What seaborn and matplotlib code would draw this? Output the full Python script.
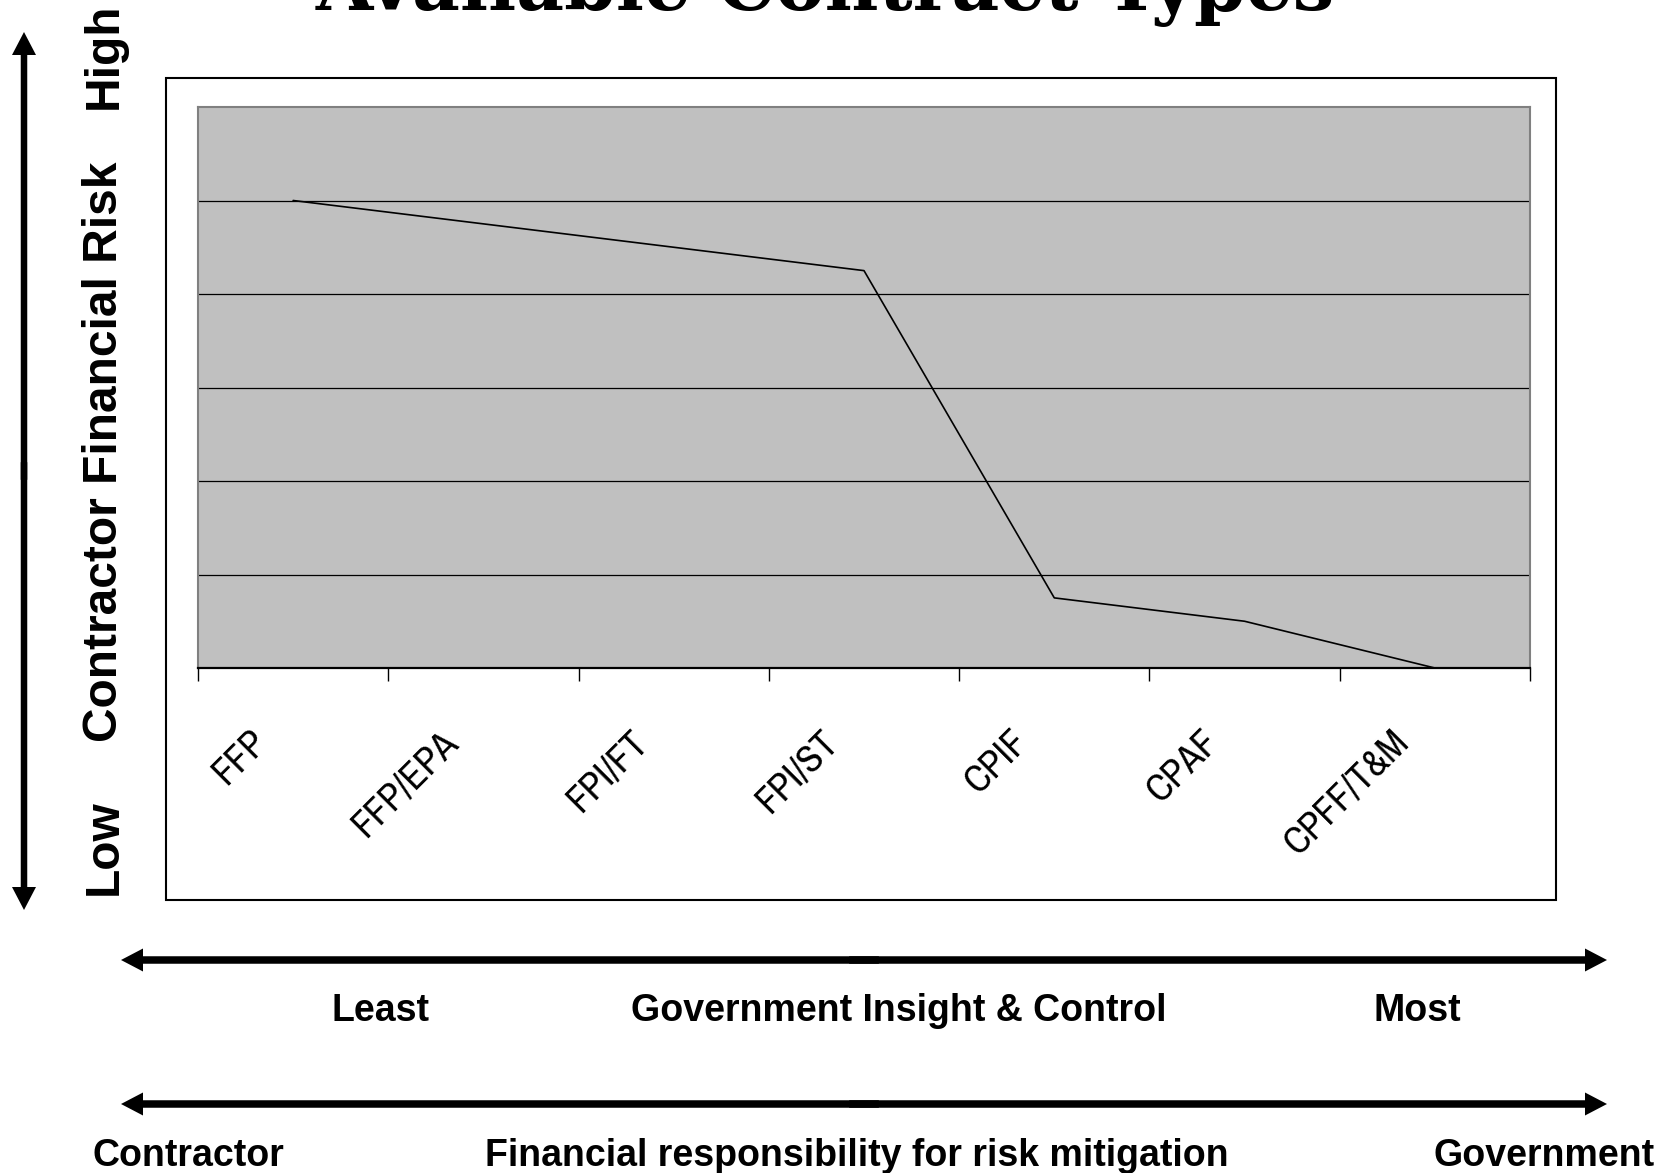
import numpy as np
import pandas as pd
import matplotlib
matplotlib.use("Agg")
import matplotlib.pyplot as plt
import matplotlib.transforms as mtransforms
from matplotlib.patches import Rectangle, FancyArrowPatch
from matplotlib import font_manager
import seaborn as sns

# Contract types ordered from firm-fixed-price to cost-plus, with relative contractor risk
contract_types = ["FFP", "FFP/EPA", "FPI/FT", "FPI/ST", "CPIF", "CPAF", "CPFF/T&M"]
contractor_risk = [5.0, 4.75, 4.5, 4.25, 0.75, 0.5, 0.0]
risk_gridlines = [1, 2, 3, 4, 5]
risk_max = 6

title_text = "Available Contract Types"
risk_axis_labels = ["Low", "Contractor Financial Risk", "High"]
insight_labels = ["Least", "Government Insight & Control", "Most"]
responsibility_labels = ["Contractor", "Financial responsibility for risk mitigation", "Government"]

W, H, DPI = 1677, 1173, 100

sns.set_theme(style="white")
installed = {f.name for f in font_manager.fontManager.ttflist}
sans = "Liberation Sans" if "Liberation Sans" in installed else "DejaVu Sans"
serif = "DejaVu Serif"
plt.rcParams["font.family"] = [sans, "DejaVu Sans"]
plt.rcParams["text.color"] = "black"

# a condensed sans face for the category labels, if one is installed
condensed = None
for f in sorted(font_manager.fontManager.ttflist, key=lambda f: f.name):
    if (f.stretch in ("condensed", "semi-condensed", 600, 700)
            and f.style == "normal" and f.weight in (400, "normal", "regular")
            and "Serif" not in f.name and "Mono" not in f.name):
        condensed = font_manager.FontProperties(fname=f.fname, size=28)
        break
if condensed is None:
    condensed = font_manager.FontProperties(family=[sans], size=24)

fig = plt.figure(figsize=(W / DPI, H / DPI), dpi=DPI)
fig.patch.set_facecolor("white")


def fx(px):
    return px / W


def fy(py):
    return 1 - py / H


# plot area in pixel units (from the top-left corner of the figure)
ax_l, ax_r, ax_t, ax_b = 198, 1530, 107, 668
ax = fig.add_axes([fx(ax_l), fy(ax_b), (ax_r - ax_l) / W, (ax_b - ax_t) / H])
ax.set_facecolor("#C0C0C0")

df = pd.DataFrame({"pos": np.arange(len(contract_types)),
                   "contract": contract_types,
                   "risk": contractor_risk})
sns.lineplot(data=df, x="pos", y="risk", ax=ax, color="black", lw=1.2,
             sort=False, legend=False, zorder=3)

ax.set_xlim(-0.5, len(contract_types) - 0.5)
ax.set_ylim(0, risk_max)
ax.set_xlabel("")
ax.set_ylabel("")

# horizontal gridlines
ax.set_yticks(risk_gridlines)
ax.set_yticklabels([])
ax.tick_params(axis="y", length=0)
ax.yaxis.grid(True, color="black", lw=0.9)
ax.set_axisbelow(True)

# category boundary ticks on the x axis
ax.set_xticks(np.arange(-0.5, len(contract_types), 1.0))
ax.set_xticklabels([])
ax.tick_params(axis="x", direction="out", length=9.5, width=1.0, color="black", bottom=True)

for side in ("top", "left", "right"):
    ax.spines[side].set_color("#808080")
    ax.spines[side].set_linewidth(1.5)
ax.spines["bottom"].set_color("black")
ax.spines["bottom"].set_linewidth(1.6)

# rotated category labels, anchored below each category centre
label_trans = (mtransforms.blended_transform_factory(ax.transData, ax.transAxes)
               + mtransforms.ScaledTranslation(-44 / DPI, -56 / DPI, fig.dpi_scale_trans))
for i, name in enumerate(contract_types):
    ax.text(i, 0, name, transform=label_trans, rotation=45, rotation_mode="anchor",
            ha="right", va="top", fontproperties=condensed,
            color="black", clip_on=False)

# frame around the chart
fig.add_artist(Rectangle((fx(166), fy(900)), (1556 - 166) / W, (900 - 78) / H,
                         transform=fig.transFigure, fill=False, ec="black", lw=1.5))

# title, partly above the top edge
title = fig.text(fx(825), fy(10), title_text, ha="center", va="baseline",
                 fontsize=50, fontweight="bold", family=[serif], color="black")
fig.canvas.draw()
tw = title.get_window_extent().width
title.set_fontsize(50 * 1020 / tw)

# vertical risk scale
low_t, main_t, high_t = risk_axis_labels
for txt, yc in ((low_t, 847), (main_t, 452), (high_t, 56)):
    fig.text(fx(117), fy(yc), txt, rotation=90, rotation_mode="anchor",
             ha="center", va="baseline", fontsize=34.5, fontweight="bold", color="black")


def double_arrow(p0, p1, shaft_px, head_w_px, head_l_px):
    ms = 10
    k = 72 / DPI / ms
    style = (f"simple,head_length={head_l_px * k:.3f},"
             f"head_width={head_w_px * k:.3f},tail_width={shaft_px * k:.3f}")
    mid = ((p0[0] + p1[0]) / 2, (p0[1] + p1[1]) / 2)
    for end, other in ((p0, p1), (p1, p0)):
        start = (mid[0] + (other[0] - mid[0]) * 0.02, mid[1] + (other[1] - mid[1]) * 0.02)
        fig.add_artist(FancyArrowPatch((fx(start[0]), fy(start[1])), (fx(end[0]), fy(end[1])),
                                       transform=fig.transFigure, arrowstyle=style,
                                       mutation_scale=ms, lw=0, fc="black", ec="none",
                                       shrinkA=0, shrinkB=0))


double_arrow((24, 32), (24, 910), 6.5, 24, 23)
double_arrow((121, 960), (1607, 960), 7.5, 23, 22)
double_arrow((121, 1104), (1607, 1104), 7.5, 23, 22)

for txt, xc in zip(insight_labels, (380, 899, 1417)):
    fig.text(fx(xc), fy(1021), txt, ha="center", va="baseline", fontsize=27,
             fontweight="bold", color="black")
for txt, xc in zip(responsibility_labels, (188, 857, 1544)):
    fig.text(fx(xc), fy(1166), txt, ha="center", va="baseline", fontsize=27,
             fontweight="bold", color="black")

fig.savefig("out.png", dpi=DPI, facecolor="white")
